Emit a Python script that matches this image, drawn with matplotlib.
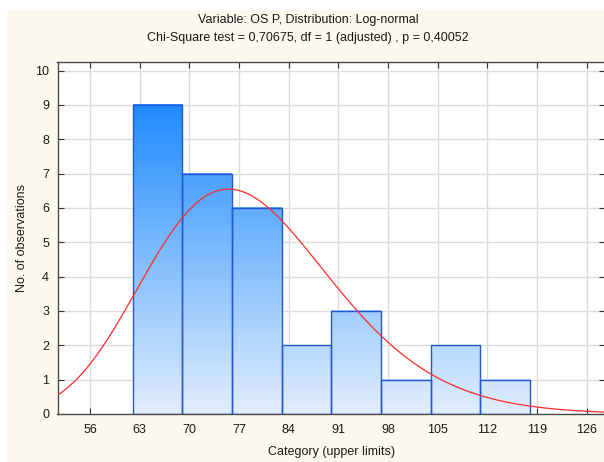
import numpy as np
import matplotlib
matplotlib.use("Agg")
import matplotlib.pyplot as plt
from matplotlib.colors import LinearSegmentedColormap, Normalize
from matplotlib.patches import Rectangle

plt.rcParams['font.family'] = ['Liberation Sans', 'DejaVu Sans']

# Histogram of OS P: lower bin edges and counts
bin_lefts = [62, 69, 76, 83, 90, 97, 104, 111]
bin_width = 7
counts = [9, 7, 6, 2, 3, 1, 2, 1]
x_ticks = [56, 63, 70, 77, 84, 91, 98, 105, 112, 119, 126]
y_ticks = list(range(0, 11))

# Fitted log-normal parameters
mu = 4.354
sigma = 0.1725

x_min, x_max = 51.4, 128.6
y_max = 10.24

fig = plt.figure(figsize=(6.04, 4.62), dpi=100)
fig.patch.set_facecolor('white')
fig.add_artist(Rectangle((7 / 604, 0), 1 - 7 / 604, 1 - 10 / 462,
                         transform=fig.transFigure, facecolor='#fdf9ee',
                         edgecolor='none', zorder=0))

ax = fig.add_axes([57.5 / 604, 1 - 414 / 462, (605 - 57.5) / 604, (414 - 62.3) / 462])
ax.set_facecolor('white')
ax.set_xlim(x_min, x_max)
ax.set_ylim(0, y_max)

ax.set_xticks(x_ticks)
ax.set_yticks(y_ticks)
ax.grid(True, color='#dcdcdc', linewidth=1.0, zorder=0)
ax.set_axisbelow(True)
ax.tick_params(axis='both', direction='in', length=4, width=0.8, color='#303030',
               labelsize=9, labelcolor='#1a1a1a', top=True, right=True)
ax.tick_params(axis='x', pad=7)
ax.tick_params(axis='y', pad=6)
for s in ax.spines.values():
    s.set_color('#4a4a4a')
    s.set_linewidth(1.0)

# Bars with a vertical gradient tied to the y scale
cmap = LinearSegmentedColormap.from_list('bluefade', ['#e2eefc', '#1f8bff'])
norm = Normalize(vmin=0, vmax=9)
for left, c in zip(bin_lefts, counts):
    grad = np.linspace(0, c, 256).reshape(-1, 1)
    ax.imshow(grad, cmap=cmap, norm=norm, origin='lower', aspect='auto',
              extent=[left, left + bin_width, 0, c], interpolation='bilinear', zorder=2)
    ax.add_patch(Rectangle((left, 0), bin_width, c, facecolor='none',
                           edgecolor='#2456d6', linewidth=1.0, zorder=3))
ax.set_xlim(x_min, x_max)
ax.set_ylim(0, y_max)

# Expected frequencies from the fitted log-normal
n_obs = sum(counts)
xs = np.linspace(x_min, x_max, 400)
pdf = np.exp(-(np.log(xs) - mu) ** 2 / (2 * sigma ** 2)) / (xs * sigma * np.sqrt(2 * np.pi))
ax.plot(xs, n_obs * bin_width * pdf, color='#ff2a2a', linewidth=0.9, zorder=4)

fig.text(0.5 + 6 / 604, 1 - 20 / 462, 'Variable: OS P, Distribution: Log-normal',
         ha='center', va='center', fontsize=9, color='#1a1a1a')
fig.text(0.5 + 6 / 604, 1 - 38 / 462,
         'Chi-Square test = 0,70675, df = 1 (adjusted) , p = 0,40052',
         ha='center', va='center', fontsize=9, color='#1a1a1a')
fig.text(22 / 604, 1 - 238 / 462, 'No. of observations', rotation=90,
         ha='center', va='center', fontsize=9, color='#1a1a1a')
fig.text(331 / 604, 1 - 452 / 462, 'Category (upper limits)',
         ha='center', va='center', fontsize=9, color='#1a1a1a')

fig.savefig('out.png', dpi=100, facecolor=fig.get_facecolor())
